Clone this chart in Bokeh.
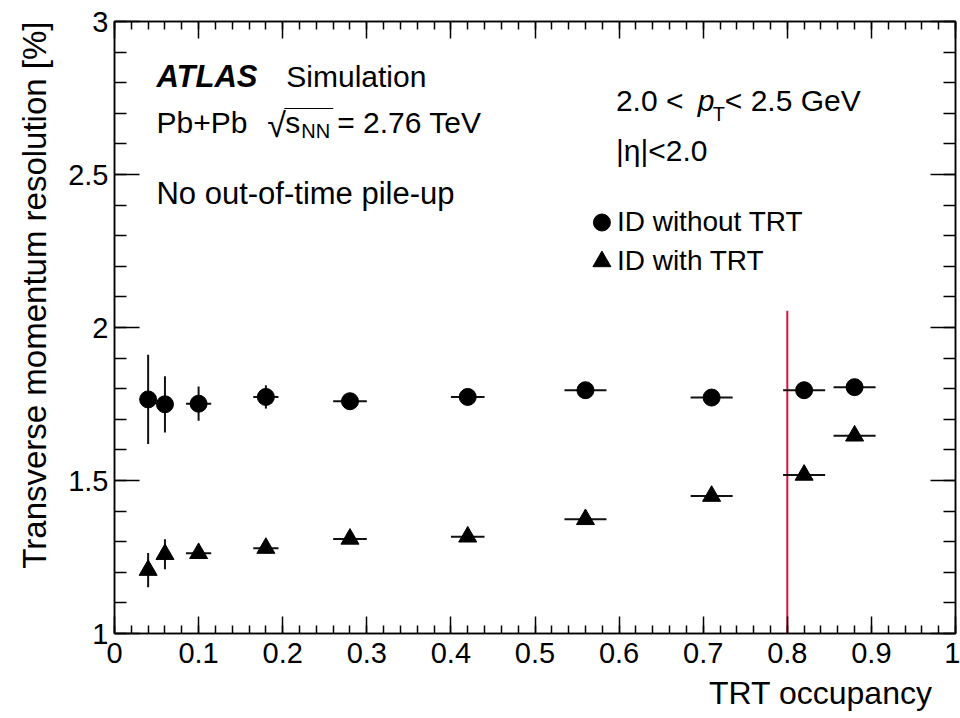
import numpy as np
from bokeh.plotting import figure
from bokeh.models import (ColumnDataSource, FixedTicker, CustomJSTickFormatter,
                          LinearAxis, Label, Range1d, Title)
from bokeh.embed import file_html
from bokeh.resources import INLINE

# ---------------- data ----------------
occupancy = [0.04, 0.06, 0.10, 0.18, 0.28, 0.42, 0.56, 0.71, 0.82, 0.88]
occupancy_err = [0.004, 0.006, 0.015, 0.015, 0.02, 0.02, 0.025, 0.025, 0.025, 0.025]

res_without_trt = [1.765, 1.749, 1.751, 1.773, 1.759, 1.773, 1.795, 1.771, 1.795, 1.805]
res_without_trt_err = [0.146, 0.092, 0.056, 0.038, 0.010, 0.008, 0.008, 0.008, 0.008, 0.008]

res_with_trt = [1.207, 1.259, 1.262, 1.279, 1.309, 1.316, 1.373, 1.449, 1.518, 1.646]
res_with_trt_err = [0.056, 0.049, 0.012, 0.010, 0.008, 0.008, 0.008, 0.008, 0.008, 0.008]

x_tick_values = [0.0, 0.1, 0.2, 0.3, 0.4, 0.5, 0.6, 0.7, 0.8, 0.9, 1.0]
x_tick_labels = ["0", "0.1", "0.2", "0.3", "0.4", "0.5", "0.6", "0.7", "0.8", "0.9", "1"]
y_tick_values = [1.0, 1.5, 2.0, 2.5, 3.0]
y_tick_labels = ["1", "1.5", "2", "2.5", "3"]

cut_occupancy = 0.8
cut_line_top = 2.055

x_title = "TRT occupancy"
y_title = "Transverse momentum resolution [%]"

# ---------------- layout helpers (pixel -> data) ----------------
FR_L, FR_R, FR_T, FR_B = 113, 955, 21, 633
X_MIN, X_MAX, Y_MIN, Y_MAX = 0.0, 1.0, 1.0, 3.0


def dx(px):
    return X_MIN + (px - FR_L) / (FR_R - FR_L) * (X_MAX - X_MIN)


def dy(py):
    return Y_MIN + (FR_B - py) / (FR_B - FR_T) * (Y_MAX - Y_MIN)


FONT = "Liberation Sans"

p = figure(width=960, height=718, output_backend="svg", toolbar_location=None,
           x_range=Range1d(X_MIN, X_MAX), y_range=Range1d(Y_MIN, Y_MAX),
           min_border_left=FR_L, min_border_right=960 - FR_R,
           min_border_top=FR_T, min_border_bottom=718 - FR_B)
p.xgrid.visible = False
p.ygrid.visible = False
p.outline_line_color = "black"
p.outline_line_width = 1.5
p.background_fill_color = "white"
p.border_fill_color = "white"

x_minor = [round(v, 2) for v in np.arange(0, 1.0001, 0.02)]
y_minor = [round(v, 2) for v in np.arange(1, 3.0001, 0.1)]

x_ticker = FixedTicker(ticks=x_tick_values, minor_ticks=x_minor)
y_ticker = FixedTicker(ticks=y_tick_values, minor_ticks=y_minor)

x_fmt = CustomJSTickFormatter(args=dict(labels=x_tick_labels), code="return labels[index];")
y_fmt = CustomJSTickFormatter(args=dict(labels=y_tick_labels), code="return labels[index];")
blank_fmt = CustomJSTickFormatter(code="return '';")


def style_axis(ax, major_in, minor_in, ticker, fmt, labels=True, standoff=6):
    ax.ticker = ticker
    ax.formatter = fmt
    ax.major_tick_in = major_in
    ax.major_tick_out = 0
    ax.minor_tick_in = minor_in
    ax.minor_tick_out = 0
    ax.axis_line_color = "black"
    ax.axis_line_width = 1.5
    ax.major_tick_line_color = "black"
    ax.major_tick_line_width = 1.5
    ax.minor_tick_line_color = "black"
    ax.minor_tick_line_width = 1.5
    ax.major_label_text_font = FONT
    ax.major_label_text_color = "black"
    ax.major_label_text_font_size = "29px" if labels else "0px"
    ax.major_label_standoff = standoff
    ax.axis_label = None


style_axis(p.xaxis[0], 17, 8, x_ticker, x_fmt, standoff=9)
style_axis(p.yaxis[0], 25, 12, y_ticker, y_fmt, standoff=6)

top_ax = LinearAxis()
style_axis(top_ax, 17, 8, x_ticker, blank_fmt, labels=False, standoff=0)
p.add_layout(top_ax, "above")
right_ax = LinearAxis()
style_axis(right_ax, 25, 12, y_ticker, blank_fmt, labels=False, standoff=0)
p.add_layout(right_ax, "right")

# axis titles (right / top aligned, ROOT style)
p.add_layout(Title(text=x_title, align="right", offset=23, text_font=FONT,
                   text_font_size="32px", text_font_style="normal", text_color="black",
                   standoff=15), "below")
p.add_layout(Title(text=y_title, align="right", offset=0, text_font=FONT,
                   text_font_size="33px", text_font_style="normal", text_color="black",
                   standoff=26), "left")

# ---------------- data marks ----------------
occ = np.array(occupancy)
oerr = np.array(occupancy_err)
src_no = ColumnDataSource(dict(
    x=occ, y=res_without_trt,
    xl=occ - oerr, xh=occ + oerr,
    yl=np.array(res_without_trt) - np.array(res_without_trt_err),
    yh=np.array(res_without_trt) + np.array(res_without_trt_err)))
src_tr = ColumnDataSource(dict(
    x=occ, y=res_with_trt,
    xl=occ - oerr, xh=occ + oerr,
    yl=np.array(res_with_trt) - np.array(res_with_trt_err),
    yh=np.array(res_with_trt) + np.array(res_with_trt_err)))

# cut line
p.segment(x0=[cut_occupancy], y0=[Y_MIN], x1=[cut_occupancy], y1=[cut_line_top],
          line_color="#dc143c", line_width=2)

for src in (src_no, src_tr):
    p.segment(x0="xl", y0="y", x1="xh", y1="y", source=src, line_color="#111111", line_width=2)
    p.segment(x0="x", y0="yl", x1="x", y1="yh", source=src, line_color="#111111", line_width=2)

p.scatter(x="x", y="y", source=src_no, marker="circle", size=17,
          fill_color="black", line_color="black")
p.scatter(x="x", y="y", source=src_tr, marker="triangle", size=18,
          fill_color="black", line_color="black")


# ---------------- texts ----------------
SHIFT = -11


def label(px, py, text, size="30px", style="normal", align="left"):
    p.add_layout(Label(x=dx(px), y=dy(py + SHIFT), x_units="data", y_units="data", text=text,
                       text_font=FONT, text_font_size=size, text_font_style=style,
                       text_color="black", text_align=align, text_baseline="alphabetic"))


label(155, 87, "ATLAS", size="31px", style="bold italic")
label(285, 87, "Simulation")
label(155, 133, "Pb+Pb")
label(266, 135, "√", size="34px")
label(284, 133, "s")
label(300, 141, "NN", size="20px")
label(336, 133, "= 2.76 TeV")
p.segment(x0=[dx(283)], y0=[dy(108)], x1=[dx(332)], y1=[dy(108)], line_color="black", line_width=1)
label(155, 204, "No out-of-time pile-up", size="31px")

label(615, 111, "2.0 <")
label(697, 111, "p", style="italic")
label(712, 124, "T", size="20px")
label(724, 111, "< 2.5 GeV")
label(615, 161, "|η|<2.0")

# legend
p.scatter(x=[dx(601)], y=[dy(222)], marker="circle", size=17, fill_color="black", line_color="black")
p.scatter(x=[dx(601)], y=[dy(261)], marker="triangle", size=18, fill_color="black", line_color="black")
label(616, 232, "ID without TRT", size="28px")
label(616, 271, "ID with TRT", size="28px")

open("out.html", "w").write(file_html(p, INLINE))
